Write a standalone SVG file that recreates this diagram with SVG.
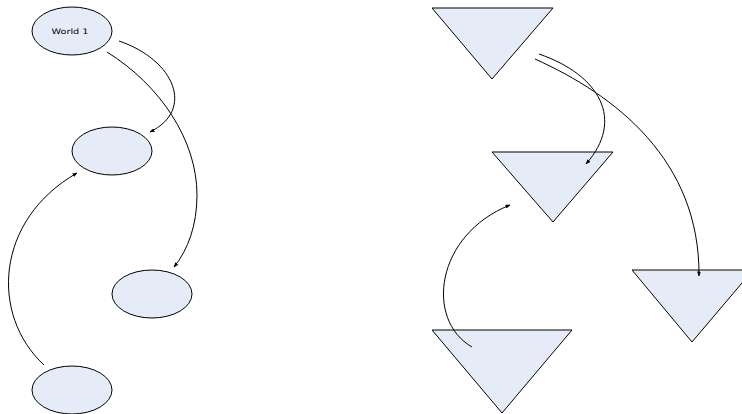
<svg xmlns="http://www.w3.org/2000/svg" width="742" height="414" viewBox="0 0 742 414">
<style>
.n{fill:#e6ecf7;stroke:#000;stroke-width:1}
.c{fill:none;stroke:#000;stroke-width:1}
.t{font-family:"DejaVu Sans","Liberation Sans",sans-serif;font-size:7.5px;fill:#000}
</style>
<defs>
<marker id="ah" markerUnits="userSpaceOnUse" markerWidth="5" markerHeight="4" refX="4.5" refY="2" orient="auto">
<path d="M0,0 L5,2 L0,4 Z" fill="#000"/>
</marker>
</defs>
<rect width="742" height="414" fill="#fff"/>
<g id="world1"><ellipse class="n" cx="72" cy="31" rx="40" ry="24"/><text class="t" x="70" y="34" text-anchor="middle" textLength="37" lengthAdjust="spacingAndGlyphs">World 1</text></g>
<g id="e2"><ellipse class="n" cx="112" cy="151" rx="40" ry="24"/></g>
<g id="e3"><ellipse class="n" cx="152" cy="294" rx="40" ry="24"/></g>
<g id="e4"><ellipse class="n" cx="72" cy="390" rx="40" ry="24"/></g>
<g id="t1"><polygon class="n" points="432,8 553,8 492,79"/></g>
<g id="t2"><polygon class="n" points="492,152 613,152 553,222"/></g>
<g id="t3"><polygon class="n" points="632,270 753,270 692,342"/></g>
<g id="t4"><polygon class="n" points="432,330 572,330 502,413"/></g>
<g id="connectors">
<path class="c" marker-end="url(#ah)" d="M119,41 C175,60 195,110 150,132"/>
<path class="c" marker-end="url(#ah)" d="M107,52 C160,85 197,140 197,195 C197,225 188,250 174,267"/>
<path class="c" marker-end="url(#ah)" d="M44,365 C-10,315 -5,220 77,173"/>
<path class="c" marker-end="url(#ah)" d="M539,54 C600,75 625,120 586,164"/>
<path class="c" marker-end="url(#ah)" d="M535,59 C615,95 700,160 699,276"/>
<path class="c" marker-end="url(#ah)" d="M472,347 C425,320 435,235 510,205"/>
</g>
</svg>
